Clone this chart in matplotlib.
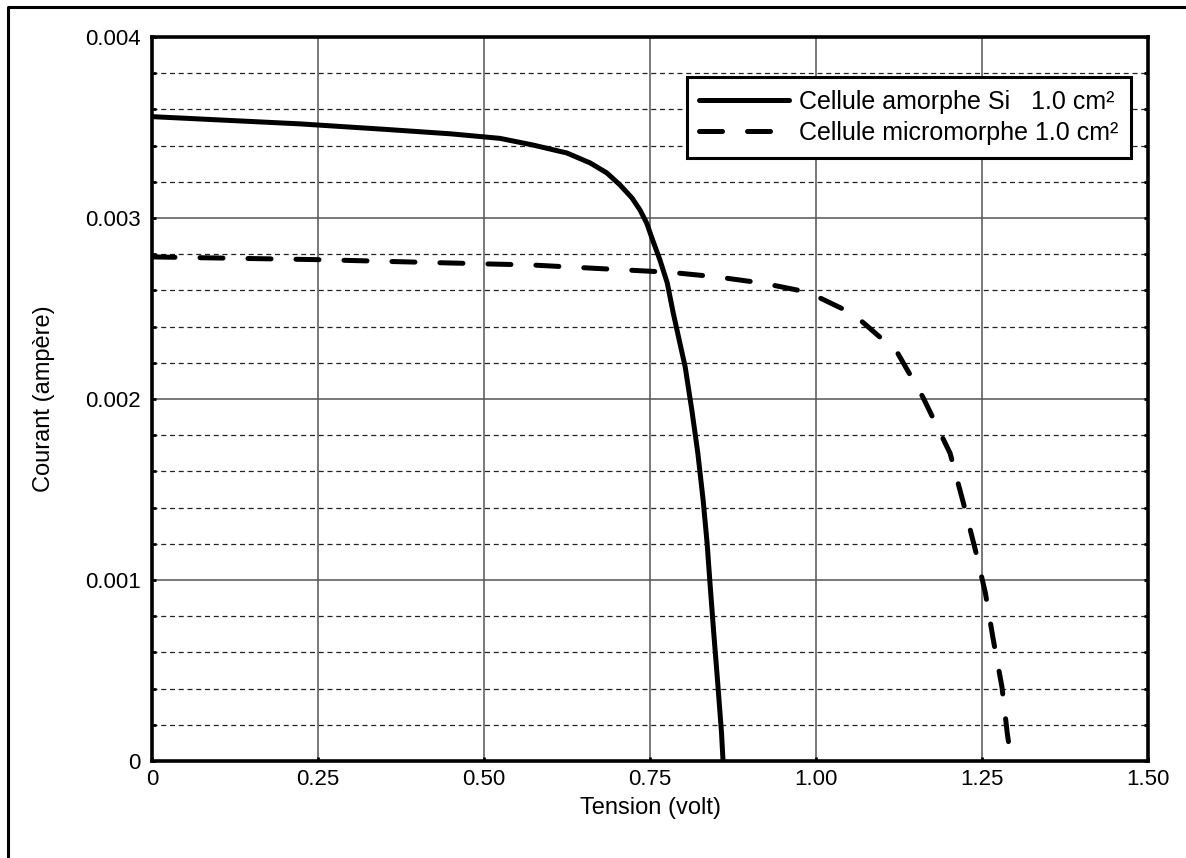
import matplotlib
matplotlib.use("Agg")
import matplotlib.pyplot as plt
from matplotlib.lines import Line2D
import numpy as np

plt.rcParams['font.family'] = ['Liberation Sans', 'DejaVu Sans']

# Data
amorphe_v = [0.0, 0.223, 0.35, 0.45, 0.524, 0.574, 0.625, 0.660, 0.685, 0.705, 0.723,
             0.735, 0.745, 0.754, 0.765, 0.776, 0.785, 0.795, 0.803, 0.813, 0.822,
             0.830, 0.836, 0.840, 0.846, 0.852, 0.8577, 0.860]
amorphe_i = [0.00356, 0.00352, 0.00349, 0.003465, 0.00344, 0.003403, 0.003359, 0.003304,
             0.003249, 0.003182, 0.00311, 0.003044, 0.002972, 0.002878, 0.002768,
             0.002641, 0.002475, 0.002309, 0.002177, 0.001939, 0.001702, 0.001442,
             0.001204, 0.00100, 0.000707, 0.000431, 0.000155, 0.0]

micro_v = [0.0, 0.248, 0.574, 0.78, 0.85, 0.92, 0.988, 1.056, 1.122, 1.161, 1.202,
           1.222, 1.24, 1.255, 1.267, 1.28, 1.288, 1.294]
micro_i = [0.002785, 0.00277, 0.00274, 0.00270, 0.002675, 0.00264, 0.00259, 0.00247,
           0.00226, 0.00201, 0.00170, 0.001425, 0.001166, 0.00093, 0.00067, 0.00041,
           0.000155, 0.0]

x_ticks = [0, 0.25, 0.5, 0.75, 1.0, 1.25, 1.5]
x_tick_labels = ["0", "0.25", "0.50", "0.75", "1.00", "1.25", "1.50"]
y_ticks = [0, 0.001, 0.002, 0.003, 0.004]
y_tick_labels = ["0", "0.001", "0.002", "0.003", "0.004"]

label_amorphe = "Cellule amorphe Si   1.0 cm²"
label_micro = "Cellule micromorphe 1.0 cm²"

W, H = 1186, 858
fig = plt.figure(figsize=(W / 100, H / 100), dpi=100)
ax = fig.add_axes([152 / W, 1 - 761 / H, (1148 - 152) / W, (761 - 37) / H])

ax.set_xlim(0, 1.5)
ax.set_ylim(0, 0.004)

# grid
ax.set_yticks(np.arange(0, 0.00401, 0.0002), minor=True)
ax.set_xticks(x_ticks)
ax.set_xticklabels(x_tick_labels)
ax.set_yticks(y_ticks)
ax.set_yticklabels(y_tick_labels)
ax.grid(True, which='major', color='#555555', linewidth=1.1, linestyle='-')
ax.grid(True, which='minor', axis='y', color='#222222', linewidth=0.9,
        linestyle=(0, (4, 3)))
ax.set_axisbelow(True)

ax.plot(amorphe_v, amorphe_i, color='black', linewidth=3.6,
        solid_capstyle='round', solid_joinstyle='round', label=label_amorphe, zorder=3)
ax.plot(micro_v, micro_i, color='black', linewidth=3.6, linestyle=(0, (4.6, 5.0)),
        dash_capstyle='round', label=label_micro, zorder=3)

for s in ax.spines.values():
    s.set_linewidth(2.6)
    s.set_zorder(4)

ax.tick_params(axis='both', which='both', direction='in', length=3, width=2,
               right=True, top=False, labelsize=16, pad=6)
ax.tick_params(axis='y', which='major', pad=8)

ax.set_xlabel("Tension (volt)", fontsize=17, labelpad=5)
ax.set_ylabel("Courant (ampère)", fontsize=17, labelpad=22)

leg = ax.legend(loc='upper right', bbox_to_anchor=((1131 - 152) / 996, 1 - (77 - 37) / 724),
                fontsize=18, frameon=True, fancybox=False, framealpha=1,
                edgecolor='black', handlelength=3.6, handletextpad=0.4,
                borderpad=0.5, labelspacing=0.3, borderaxespad=0)
leg.get_frame().set_linewidth(2.2)

# outer frame (left and top edges visible)
fig.add_artist(Line2D([8 / W, 8 / W, 1.0], [0.0, 1 - 7 / H, 1 - 7 / H],
                      transform=fig.transFigure, color='black', linewidth=2.2))

fig.savefig("out.png", dpi=100)
